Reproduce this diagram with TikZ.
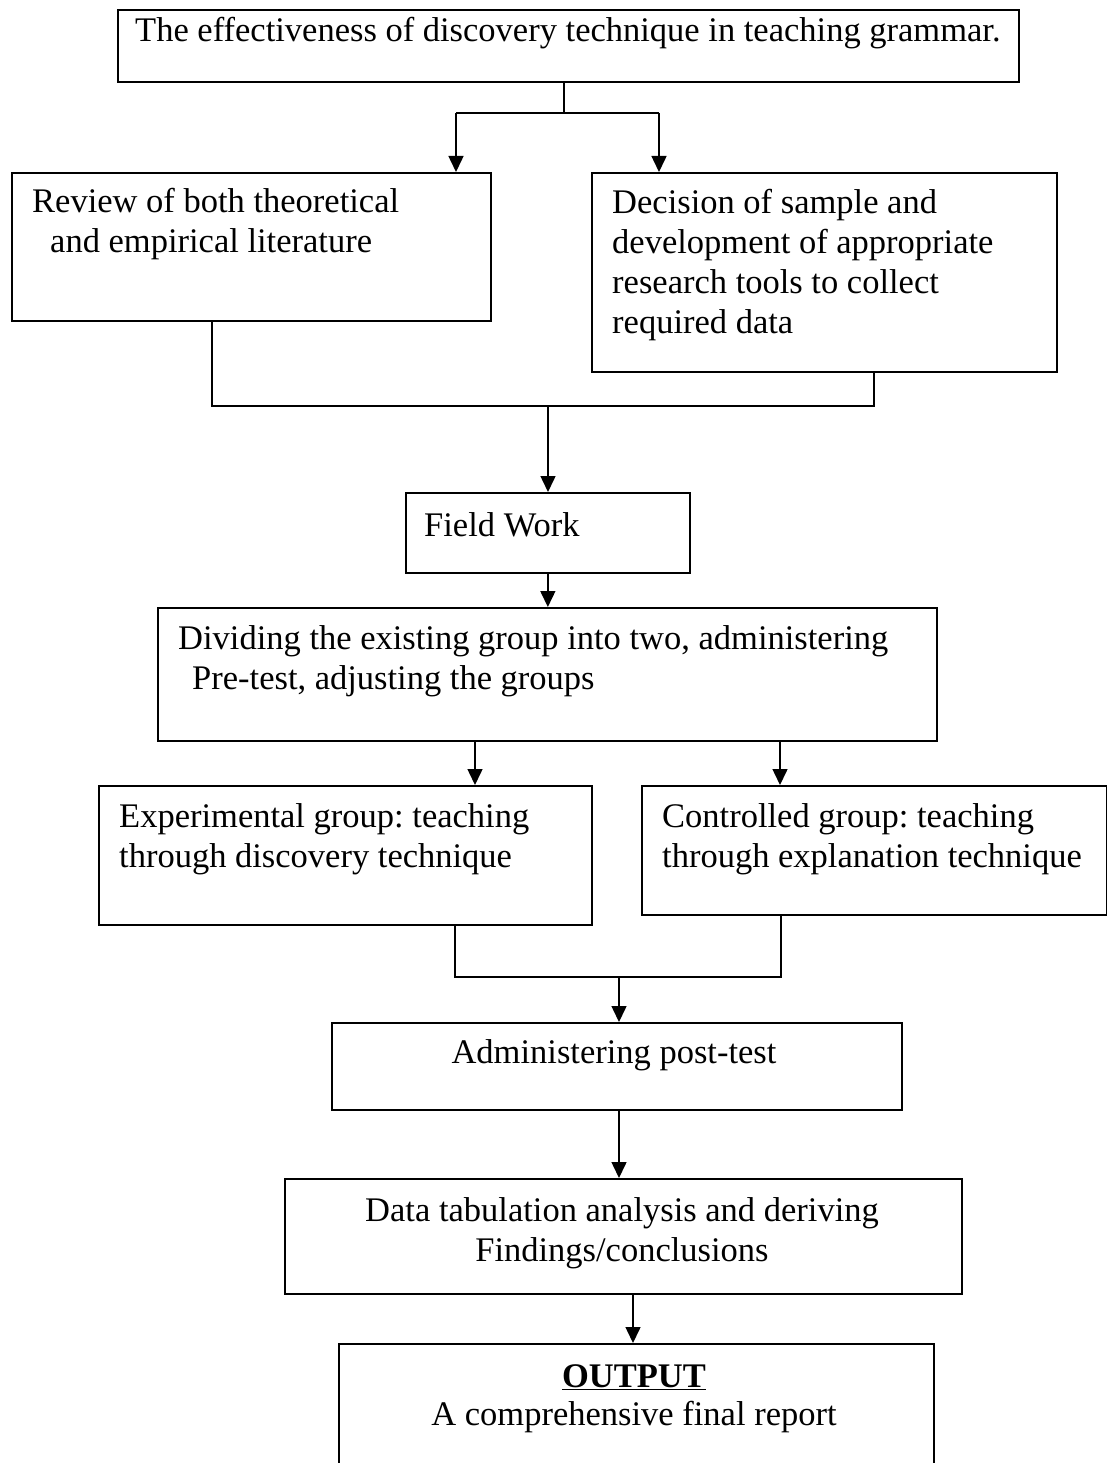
\documentclass[tikz,border=0pt]{standalone}
\usepackage{fontspec}
\setmainfont{Liberation Serif}
\usetikzlibrary{arrows.meta}
\frenchspacing

\tikzset{
  box/.style={draw, line width=1.7pt, inner sep=0pt, anchor=north west},
  txt/.style={inner sep=0pt, anchor=base west, align=left},
  link/.style={line width=1.5pt},
  arr/.style={link, -{Triangle[length=16pt,width=15pt]}},
}

\begin{document}
\begin{tikzpicture}[x=1pt, y=-1pt, font=\fontsize{34.5}{40}\selectfont]
  \useasboundingbox (0,0) rectangle (1107,1463);

  % Boxes
  \node[box, minimum width=901, minimum height=72] (title) at (117,9) {};
  \node[box, minimum width=479, minimum height=148] (review) at (11,172) {};
  \node[box, minimum width=465, minimum height=199] (decision) at (591,172) {};
  \node[box, minimum width=284, minimum height=80] (field) at (405,492) {};
  \node[box, minimum width=779, minimum height=133] (divide) at (157,607) {};
  \node[box, minimum width=493, minimum height=139] (exper) at (98,785) {};
  \node[box, minimum width=465, minimum height=129] (control) at (641,785) {};
  \node[box, minimum width=570, minimum height=87] (posttest) at (331,1022) {};
  \node[box, minimum width=677, minimum height=115] (analysis) at (284,1178) {};
  \node[box, minimum width=595, minimum height=150] (output) at (338,1343) {};

  % Texts (anchored at the baseline of their last line)
  \node[txt] (titletxt) at (135,42) {The effectiveness of discovery technique in teaching grammar.};
  \node[txt] (reviewtxt) at (32,253) {Review of both theoretical\\\hspace*{18pt}and empirical literature};
  \node[txt] (decisiontxt) at (612,333) {Decision of sample and\\development of appropriate\\research tools to collect\\required data};
  \node[txt] (fieldtxt) at (424,536) {Field Work};
  \node[txt] (dividetxt) at (178,689) {Dividing the existing group into two, administering\\\hspace*{14pt}Pre-test, adjusting the groups};
  \node[txt] (expertxt) at (119,867) {Experimental group: teaching\\through discovery technique};
  \node[txt] (controltxt) at (662,867) {Controlled group: teaching\\through explanation technique};
  \node[txt, anchor=base] (posttesttxt) at (614,1063) {Administering post-test};
  \node[txt, anchor=base, align=center] (analysistxt) at (622,1261) {Data tabulation analysis and deriving\\Findings/conclusions};
  \node[txt, anchor=base] (outputhead) at (634,1387) {\underline{\textbf{OUTPUT}}};
  \node[txt, anchor=base] (outputtxt) at (634,1425) {A comprehensive final report};

  % Split below the title
  \coordinate (split) at (564,113);
  \coordinate (toreview) at (456,113);
  \coordinate (todecision) at (659,113);
  \draw[link] (title.south -| split) -- (split);
  \draw[link] (toreview) -- (todecision);
  \draw[arr] (toreview) -- (toreview |- review.north);
  \draw[arr] (todecision) -- (todecision |- decision.north);

  % Join of review and decision
  \coordinate (joinA) at (548,406);
  \coordinate (rb) at ([xshift=201pt]review.south west);
  \coordinate (db) at ([xshift=283pt]decision.south west);
  \draw[link] (rb) |- (joinA) -| (db);
  \draw[arr] (joinA) -- (joinA |- field.north);

  % Field work to dividing
  \draw[arr] (field.south) -- (field.south |- divide.north);

  % Dividing to the two groups
  \coordinate (toexper) at ([xshift=318pt]divide.south west);
  \coordinate (tocontrol) at ([xshift=623pt]divide.south west);
  \draw[arr] (toexper) -- (toexper |- exper.north);
  \draw[arr] (tocontrol) -- (tocontrol |- control.north);

  % Join of the two groups
  \coordinate (joinB) at (619,977);
  \coordinate (eb) at ([xshift=357pt]exper.south west);
  \coordinate (cb) at ([xshift=140pt]control.south west);
  \draw[link] (eb) |- (joinB) -| (cb);
  \draw[arr] (joinB) -- (joinB |- posttest.north);

  % Post-test to analysis to output
  \draw[arr] (posttest.south -| joinB) -- (joinB |- analysis.north);
  \coordinate (toout) at ([xshift=349pt]analysis.south west);
  \draw[arr] (toout) -- (toout |- output.north);
\end{tikzpicture}
\end{document}
